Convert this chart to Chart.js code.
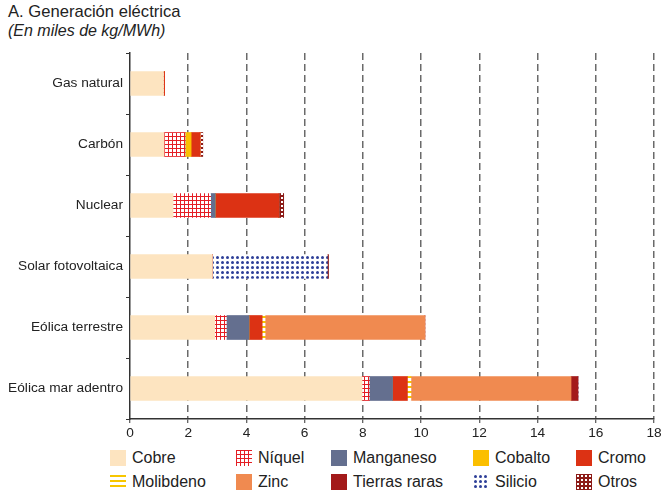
<!DOCTYPE html>
<html>
<head>
<meta charset="utf-8">
<script src="https://cdn.jsdelivr.net/npm/chart.js@4"></script>
<style>
  body { margin: 0; background: #fff; font-family: 'Liberation Sans', Arial, sans-serif; color: #222; }
  #wrap { position: relative; width: 661px; height: 494px; overflow: hidden; }
  #chartBox { position: absolute; left: 0; top: 0; width: 668px; height: 446px; }
  .title { position: absolute; left: 8px; line-height: 19px; white-space: nowrap; }
  .item { position: absolute; height: 16px; font-size: 16px; line-height: 16px; white-space: nowrap; }
  .item canvas { position: absolute; left: 0; top: 0; }
  .item span { position: absolute; left: 22px; top: 0; }
</style>
</head>
<body>
<div id="wrap">
  <div class="title" style="top:2px;font-size:16.6px">A. Generación eléctrica</div>
  <div class="title" style="top:21px;font-size:16px;font-style:italic">(En miles de kg/MWh)</div>
  <div id="chartBox"><canvas id="chart"></canvas></div>
  <div id="legend"></div>
</div>
<script>
// datos (miles de kg por MWh)
const categories = ['Gas natural', 'Carbón', 'Nuclear', 'Solar fotovoltaica', 'Eólica terrestre', 'Eólica mar adentro'];
const cobre     = [1.15, 1.17, 1.48, 2.83, 2.91, 7.97];
const niquel    = [0, 0.72, 1.29, 0, 0.40, 0.25];
const manganeso = [0, 0, 0.16, 0, 0.78, 0.80];
const cobalto   = [0, 0.21, 0, 0, 0, 0];
const cromo     = [0.04, 0.31, 2.18, 0, 0.45, 0.51];
const molibdeno = [0, 0, 0, 0, 0.10, 0.12];
const zinc      = [0, 0, 0, 0, 5.49, 5.50];
const tierras   = [0, 0, 0, 0, 0, 0.24];
const silicio   = [0, 0, 0, 3.95, 0, 0];
const otros     = [0, 0.09, 0.17, 0.04, 0, 0];
const xTicks    = [0, 2, 4, 6, 8, 10, 12, 14, 16, 18];

// tramas
function makeTile(size, draw) {
    const c = document.createElement('canvas');
    c.width = size; c.height = size;
    draw(c.getContext('2d'), size);
    return c;
}
const tiles = {
    niquel: makeTile(4, (g, s) => {
        g.fillStyle = '#fff'; g.fillRect(0, 0, s, s);
        g.fillStyle = '#e41e24'; g.fillRect(0, 0, s, 1); g.fillRect(0, 0, 1, s);
    }),
    molibdeno: makeTile(5, (g, s) => {
        g.fillStyle = '#fff'; g.fillRect(0, 0, s, s);
        g.fillStyle = '#f7c600'; g.fillRect(0, 1, s, 2);
    }),
    silicio: makeTile(5, (g, s) => {
        g.fillStyle = '#fff'; g.fillRect(0, 0, s, s);
        g.fillStyle = '#2e3f98';
        g.beginPath(); g.arc(2.5, 2.5, 1.5, 0, Math.PI * 2); g.fill();
    }),
    otros: makeTile(4, (g, s) => {
        g.fillStyle = '#8c1b17'; g.fillRect(0, 0, s, s);
        g.fillStyle = '#fff'; g.fillRect(1, 1, 2, 2);
    })
};

const ctx = document.getElementById('chart').getContext('2d');
const pat = name => ctx.createPattern(tiles[name], 'repeat');

const series = [
    { label: 'Cobre', data: cobre, color: '#fde4c0' },
    { label: 'Níquel', data: niquel, color: pat('niquel'), tile: 'niquel' },
    { label: 'Manganeso', data: manganeso, color: '#646f8f' },
    { label: 'Cobalto', data: cobalto, color: '#fbbf00' },
    { label: 'Cromo', data: cromo, color: '#dc3214' },
    { label: 'Molibdeno', data: molibdeno, color: pat('molibdeno'), tile: 'molibdeno' },
    { label: 'Zinc', data: zinc, color: '#f08a50' },
    { label: 'Tierras raras', data: tierras, color: '#a31a1a' },
    { label: 'Silicio', data: silicio, color: pat('silicio'), tile: 'silicio' },
    { label: 'Otros', data: otros, color: pat('otros'), tile: 'otros' }
];

const font = { family: "'Liberation Sans', Arial, sans-serif", size: 13.7 };

new Chart(ctx, {
    type: 'bar',
    data: {
        labels: categories,
        datasets: series.map(s => ({
            label: s.label,
            data: s.data,
            backgroundColor: s.color,
            borderWidth: 0,
            barThickness: 24
        }))
    },
    options: {
        indexAxis: 'y',
        responsive: true,
        maintainAspectRatio: false,
        animation: false,
        layout: { padding: { top: 53, right: 14, left: 0, bottom: 0 } },
        plugins: { legend: { display: false }, tooltip: { enabled: false } },
        scales: {
            x: {
                stacked: true,
                min: 0,
                max: 18,
                afterBuildTicks: scale => { scale.ticks = xTicks.map(v => ({ value: v })); },
                afterFit: scale => { scale.height = 27; },
                grid: {
                    color: c => (c.tick && c.tick.value === 0) ? 'rgba(0,0,0,0)' : '#6a6a6a',
                    lineWidth: 1.5,
                    tickColor: '#333',
                    tickLength: 4,
                    tickWidth: 1
                },
                border: { display: true, color: '#333', width: 1.5, dash: [7, 4] },
                ticks: { font: font, color: '#222', padding: 2, maxRotation: 0 }
            },
            y: {
                stacked: true,
                afterFit: scale => { scale.width = 130; },
                grid: {
                    offset: true,
                    drawOnChartArea: false,
                    tickLength: 4,
                    color: '#333'
                },
                border: { display: true, color: '#333', width: 1.5 },
                ticks: { font: font, color: '#222', padding: 3 }
            }
        }
    }
});

// leyenda en 5 columnas
const colX = [110, 236, 331, 473, 576];
const rowY = [450, 474];
const legend = document.getElementById('legend');
series.forEach((s, i) => {
    const item = document.createElement('div');
    item.className = 'item';
    item.style.left = colX[i % 5] + 'px';
    item.style.top = rowY[Math.floor(i / 5)] + 'px';
    const sw = document.createElement('canvas');
    sw.width = 16; sw.height = 16;
    const g = sw.getContext('2d');
    g.fillStyle = s.tile ? g.createPattern(tiles[s.tile], 'repeat') : s.color;
    g.fillRect(0, 0, 16, 16);
    const txt = document.createElement('span');
    txt.textContent = s.label;
    item.appendChild(sw);
    item.appendChild(txt);
    legend.appendChild(item);
});
</script>
</body>
</html>
